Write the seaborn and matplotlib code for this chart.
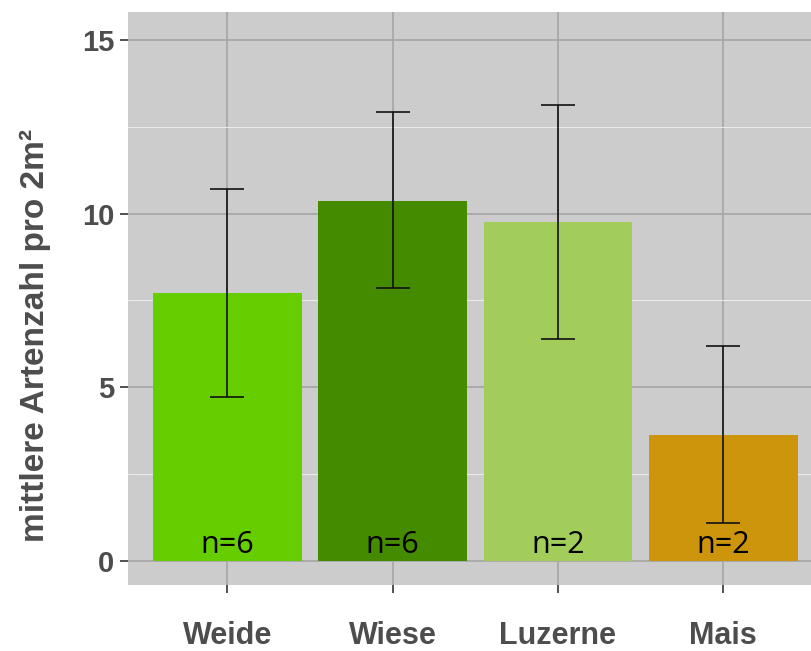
import matplotlib
matplotlib.use('Agg')
import matplotlib.pyplot as plt
import seaborn as sns
import numpy as np
from matplotlib.ticker import MultipleLocator

# Daten
kulturen = ['Weide', 'Wiese', 'Luzerne', 'Mais']
mittelwert = [7.72, 10.37, 9.76, 3.63]
fehler_unten = [4.72, 7.86, 6.39, 1.09]
fehler_oben = [10.71, 12.93, 13.13, 6.19]
n_proben = [6, 6, 2, 2]
farben = ['#66CD00', '#458B00', '#A2CD5A', '#CD950C']

sns.set_theme(style='darkgrid')
plt.rcParams['font.family'] = ['Liberation Sans', 'DejaVu Sans']

fig = plt.figure(figsize=(8.11, 6.51), dpi=100)
ax = fig.add_axes([0.1578, 0.1014, 0.8422, 0.8802])
ax.set_facecolor('#CCCCCC')

sns.barplot(x=kulturen, y=mittelwert, hue=kulturen, palette=farben,
            width=0.9, legend=False, saturation=1, linewidth=0, ax=ax, zorder=2)

pos = np.arange(len(kulturen))
mw = np.array(mittelwert)
yerr = [mw - np.array(fehler_unten), np.array(fehler_oben) - mw]
ax.errorbar(pos, mw, yerr=yerr, fmt='none', ecolor='#111111',
            elinewidth=1.2, capsize=12, capthick=1.2, zorder=3)

# Stichprobengröße unten in jedem Balken
for i, n in enumerate(n_proben):
    ax.text(pos[i], 0.02, f'n={n}', ha='center', va='bottom',
            fontsize=22, color='black', family=['Open Sans', 'DejaVu Sans'],
            zorder=4)

ax.set_xlim(-0.6, 3.53)
ax.set_ylim(-0.69, 15.8)
ax.yaxis.set_major_locator(MultipleLocator(5))
ax.yaxis.set_minor_locator(MultipleLocator(2.5))
ax.set_axisbelow(True)
ax.grid(which='major', color='#A8A8A8', linewidth=1.3)
ax.grid(which='minor', axis='y', color='#EBEBEB', linewidth=0.8)
ax.grid(which='minor', axis='x', visible=False)
for s in ax.spines.values():
    s.set_visible(False)

ax.tick_params(axis='both', which='major', length=6, width=1.2,
               color='#333333', labelcolor='#4D4D4D', labelsize=21,
               bottom=True, left=True)
ax.tick_params(axis='y', which='minor', length=0)
ax.tick_params(axis='x', pad=20, labelsize=22)
ax.tick_params(axis='y', pad=4)
for lab in ax.get_xticklabels() + ax.get_yticklabels():
    lab.set_fontweight('bold')

ax.set_xlabel('')
ax.set_ylabel('mittlere Artenzahl pro 2m²', fontsize=24, fontweight='bold',
              color='#4D4D4D')
ax.yaxis.set_label_coords(-0.113, 0.436)

fig.savefig('out.png', dpi=100)
